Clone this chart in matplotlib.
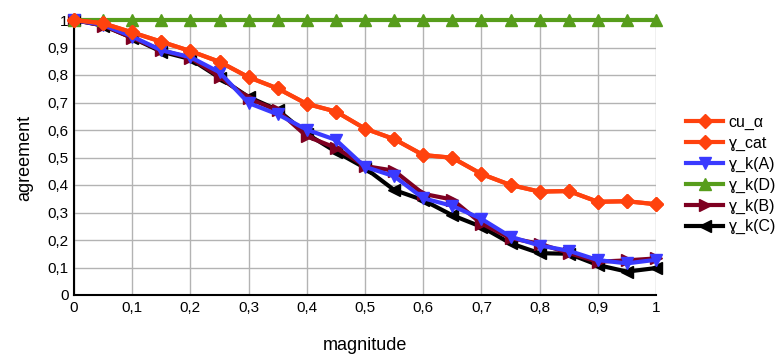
import matplotlib.pyplot as plt

plt.rcParams['font.family'] = ['Liberation Sans', 'DejaVu Sans']

# magnitude values
x = [0, 0.05, 0.1, 0.15, 0.2, 0.25, 0.3, 0.35, 0.4, 0.45, 0.5,
     0.55, 0.6, 0.65, 0.7, 0.75, 0.8, 0.85, 0.9, 0.95, 1]

cu_alpha = [1.0, 0.988, 0.955, 0.921, 0.887, 0.848, 0.792, 0.751, 0.695, 0.667, 0.605,
            0.567, 0.509, 0.499, 0.44, 0.40, 0.376, 0.378, 0.339, 0.341, 0.33]
g_cat = [1.0, 0.988, 0.955, 0.921, 0.887, 0.848, 0.792, 0.751, 0.695, 0.667, 0.605,
         0.567, 0.509, 0.499, 0.44, 0.40, 0.376, 0.378, 0.339, 0.341, 0.33]
g_kA = [1.0, 0.982, 0.94, 0.89, 0.865, 0.81, 0.698, 0.657, 0.601, 0.564, 0.466,
        0.432, 0.352, 0.324, 0.277, 0.212, 0.18, 0.161, 0.127, 0.115, 0.128]
g_kD = [1.0] * 21
g_kB = [1.0, 0.98, 0.935, 0.89, 0.862, 0.794, 0.715, 0.671, 0.577, 0.535, 0.469,
        0.452, 0.368, 0.347, 0.26, 0.207, 0.186, 0.153, 0.121, 0.126, 0.133]
g_kC = [1.0, 0.98, 0.935, 0.885, 0.858, 0.79, 0.72, 0.673, 0.586, 0.521, 0.462,
        0.382, 0.345, 0.29, 0.248, 0.188, 0.152, 0.15, 0.109, 0.085, 0.098]

ticks = [0, 0.1, 0.2, 0.3, 0.4, 0.5, 0.6, 0.7, 0.8, 0.9, 1]
tick_labels = ['0', '0,1', '0,2', '0,3', '0,4', '0,5', '0,6', '0,7', '0,8', '0,9', '1']

fig = plt.figure(figsize=(7.77, 3.54), dpi=100)
ax = fig.add_axes([74 / 777, 59 / 354, 582 / 777, 275 / 354])

lw = 3
ax.plot(x, cu_alpha, color='#ff420e', marker='D', markersize=7, lw=lw, label='cu_α', zorder=6, clip_on=False)
ax.plot(x, g_cat, color='#ff420e', marker='D', markersize=7, lw=lw, label='ɣ_cat', zorder=6, clip_on=False)
ax.plot(x, g_kA, color='#3a3aff', marker='v', markersize=9, lw=lw, label='ɣ_k(A)', zorder=4, clip_on=False)
ax.plot(x, g_kD, color='#579d1c', marker='^', markersize=9, lw=lw, label='ɣ_k(D)', zorder=5, clip_on=False)
ax.plot(x, g_kB, color='#7e0021', marker='>', markersize=9, lw=lw, label='ɣ_k(B)', zorder=3, clip_on=False)
ax.plot(x, g_kC, color='#000000', marker='<', markersize=9, lw=lw, label='ɣ_k(C)', zorder=2, clip_on=False)

ax.set_xlim(0, 1)
ax.set_ylim(0, 1)
ax.set_xticks(ticks)
ax.set_xticklabels(tick_labels)
ax.set_yticks(ticks)
ax.set_yticklabels(tick_labels)
ax.tick_params(length=0, labelsize=11, pad=4)

ax.grid(color='#b3b3b3', lw=1)
ax.set_axisbelow(True)
for s in ['top', 'right']:
    ax.spines[s].set_visible(False)
ax.spines['left'].set_linewidth(1.5)
ax.spines['bottom'].set_linewidth(1.5)

ax.set_xlabel('magnitude', fontsize=13, labelpad=16)
ax.set_ylabel('agreement', fontsize=13, labelpad=10)

ax.legend(loc='upper left', bbox_to_anchor=(1.052, 0.655), frameon=False,
          fontsize=11.5, handlelength=2.3, handletextpad=0.35,
          labelspacing=0.36, borderaxespad=0, borderpad=0)

fig.savefig('out.png', dpi=100)
